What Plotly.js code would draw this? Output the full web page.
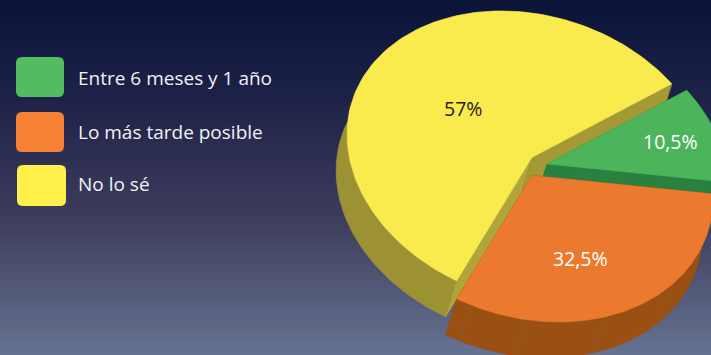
<!DOCTYPE html>
<html><head><meta charset="utf-8">
<script src="https://cdn.plot.ly/plotly-3.0.1.min.js"></script>
<style>
html,body{margin:0;padding:0;width:711px;height:355px;overflow:hidden;
background:linear-gradient(180deg,#0b1339 0%,#1b2046 25%,#3c3b5c 60%,#667390 100%);}
#c{width:711px;height:355px}
</style></head><body><div id="c"></div>
<script>
const categories=['Entre 6 meses y 1 año','Lo más tarde posible','No lo sé'];
const values=[10.5,32.5,57];
const valueLabels=['10,5%','32,5%','57%'];
const topColors=['#4cb45a','#ec7a2e','#f9ea4e'];
const sideColors=['#2a803f','#9b5013','#9c9234'];
const cutStartColors=['#2a803f','#9b5013','#b0a53b'];
const cutEndColors=['#2a803f','#9b5013','#a39a36'];
const seamColors=['#2a803f','#8a5a30','#77722f'];
const legendColors=['#52bd60','#f58233','#fff14a'];
const labelColors=['#ffffff','#ffffff','#222222'];

// view geometry of the tilted pie
const C=[530,157.5],RX=183,RY=146.5,PHI=81,START=-40.2;
const WARP=1,WARP_AT=37; // perspective squeeze of the pie angle
const EXTRUDE=[-11,36];
const OFFSETS=[[15,6.5],[0,18],[0,0]];
const orangeSeams=[40.7,66.7,92,110];
const rad=d=>d*Math.PI/180;
const warp=t=>t-WARP*Math.sin(rad(t-WARP_AT));
function rim(t,o){const w=warp(t);return [C[0]+o[0]+RX*Math.cos(rad(w)),C[1]+o[1]+RY*Math.cos(rad(w-PHI))];}
function poly(pts,color,lw,lc){return {type:'scatter',mode:'lines',x:pts.map(p=>p[0]),y:pts.map(p=>p[1]),
  fill:'toself',fillcolor:color,line:{color:lc||color,width:lw===undefined?0.5:lw},hoverinfo:'skip',showlegend:false};}
function seg(p,q,color){return {type:'scatter',mode:'lines',x:[p[0],q[0]],y:[p[1],q[1]],line:{color,width:0.7},hoverinfo:'skip',showlegend:false};}
const ex=p=>[p[0]+EXTRUDE[0],p[1]+EXTRUDE[1]];

const total=values.reduce((a,b)=>a+b,0);
const traces=[];
const order=[2,0,1];
let a=START;const spans=values.map(v=>{const s=[a,a+v/total*360];a=s[1];return s;});
order.forEach(i=>{
  const [t0,t1]=spans[i],o=OFFSETS[i];
  const arc=[];for(let t=t0;t<=t1+1e-6;t+=(t1-t0)/120)arc.push(rim(t,o));
  const apex=[C[0]+2+o[0],C[1]+o[1]];
  traces.push(poly(arc.concat(arc.slice().reverse().map(ex),[arc[0]]),sideColors[i]));
  const p0=arc[0],p1=arc[arc.length-1];
  traces.push(poly([apex,p0,ex(p0),ex(apex),apex],cutStartColors[i]));
  traces.push(poly([apex,p1,ex(p1),ex(apex),apex],cutEndColors[i]));
  if(i===2)traces.push(seg(p1,ex(p1),seamColors[i]));
  if(i===1)orangeSeams.forEach(t=>{const p=rim(t,o);traces.push(seg(p,ex(p),seamColors[i]));});
  traces.push(poly([apex].concat(arc,[apex]),topColors[i]));
});

const annotations=[];
const labelPos=[[670,141],[580,258],[463,108]];
valueLabels.forEach((t,i)=>annotations.push({x:labelPos[i][0],y:labelPos[i][1],text:t,showarrow:false,xref:'x',yref:'y',
  font:{family:'"Open Sans", sans-serif',size:19.5,color:labelColors[i]}}));
const legendY=[78,132,184];
const boxes=[[16,57,64,97],[16,112,64,152],[17,165,66,206]];
const shapes=boxes.map((b,i)=>{const r=6,[x0,y0,x1,y1]=b;return {type:'path',xref:'x',yref:'y',fillcolor:legendColors[i],line:{width:0},
  path:`M${x0+r},${y0}L${x1-r},${y0}Q${x1},${y0} ${x1},${y0+r}L${x1},${y1-r}Q${x1},${y1} ${x1-r},${y1}L${x0+r},${y1}Q${x0},${y1} ${x0},${y1-r}L${x0},${y0+r}Q${x0},${y0} ${x0+r},${y0}Z`};});
categories.forEach((t,i)=>annotations.push({x:75.5,y:legendY[i],text:t,showarrow:false,xanchor:'left',xref:'x',yref:'y',
  font:{family:'"Open Sans", sans-serif',size:19,color:'#f2f2f6'}}));

Plotly.newPlot('c',traces,{width:711,height:355,margin:{l:0,r:0,t:0,b:0},paper_bgcolor:'rgba(0,0,0,0)',plot_bgcolor:'rgba(0,0,0,0)',
  showlegend:false,hovermode:false,
  xaxis:{range:[0,711],visible:false,fixedrange:true},
  yaxis:{range:[355,0],visible:false,fixedrange:true},
  shapes,annotations},{displayModeBar:false,staticPlot:true});
</script></body></html>
